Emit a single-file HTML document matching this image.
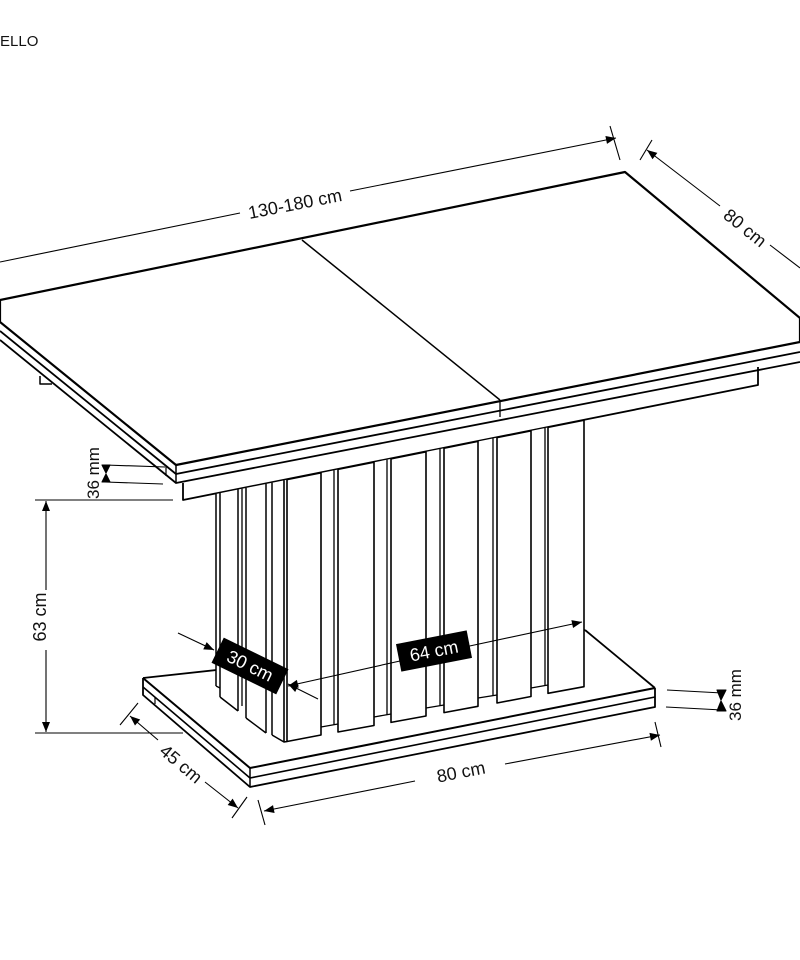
<!DOCTYPE html>
<html><head><meta charset="utf-8"><style>
html,body{margin:0;padding:0;background:#fff;width:800px;height:960px;overflow:hidden}
svg{display:block}
text{font-family:"Liberation Sans",Arial,sans-serif;fill:#111}
</style></head><body>
<svg width="800" height="960" viewBox="0 0 800 960" xmlns="http://www.w3.org/2000/svg">
<defs>
<marker id="a" viewBox="0 0 10 10" refX="10" refY="5" markerWidth="14" markerHeight="10" markerUnits="userSpaceOnUse" orient="auto-start-reverse"><path d="M0,1 L10,5 L0,9 z" fill="#000"/></marker>
</defs>
<text x="0" y="46" font-size="15">ELLO</text>

<g stroke="#000" fill="none" stroke-linejoin="round">
<!-- base (drawn first, behind pedestal) -->
<polygon points="143,678 585,630 655,688 655,707 250,787 143,695" fill="#fff" stroke="none"/>
<polyline points="143,678 585,630" stroke-width="1.8"/>
<polyline points="585,630 655,688" stroke-width="1.8"/>
<polyline points="143,678 250,768 655,688" stroke-width="2"/>
<polyline points="143,687 250,778 655,697" stroke-width="1.6"/>
<polyline points="143,678 143,695 250,787 655,707 655,688" stroke-width="1.8"/>
<line x1="250" y1="768" x2="250" y2="787" stroke-width="1.5"/>
<line x1="155" y1="697" x2="155" y2="704" stroke-width="1.2"/>

<!-- tabletop -->
<polygon points="0,300 625,172 800,318 800,342 176,465 0,322" fill="#fff" stroke-width="2.2"/>
<line x1="302" y1="240" x2="500" y2="400" stroke-width="1.5"/>
<line x1="500" y1="400" x2="500" y2="417" stroke-width="1.3"/>
<polyline points="0,331 176,474 800,352" stroke-width="1.8"/>
<polyline points="0,340 176,483 800,362" stroke-width="1.8"/>
<line x1="176" y1="465" x2="176" y2="483" stroke-width="1.5"/>
<line x1="166" y1="466" x2="166" y2="476" stroke-width="1.2"/>
<polyline points="40,376 40,384 52,384" stroke-width="1.5"/>
<!-- apron -->
<polyline points="183,483 183,500 758,385 758,367" stroke-width="1.8"/>

<!-- recess background panel -->
<polygon points="216,494 584,420.2 584,679 284,742 216,688" fill="#fff" stroke="none"/>
<polyline points="321,727 338,724" stroke-width="1.3"/>
<polyline points="374,717 391,714" stroke-width="1.3"/>
<polyline points="426,708 444,705" stroke-width="1.3"/>
<polyline points="478,698 497,695" stroke-width="1.3"/>
<polyline points="531,688 548,685" stroke-width="1.3"/>
<line x1="334" y1="470.2" x2="334" y2="724.5" stroke-width="1.3"/>
<line x1="387" y1="459.6" x2="387" y2="714.5" stroke-width="1.3"/>
<line x1="440" y1="449" x2="440" y2="705.5" stroke-width="1.3"/>
<line x1="493" y1="438.4" x2="493" y2="695.5" stroke-width="1.3"/>
<line x1="545" y1="428" x2="545" y2="685.5" stroke-width="1.3"/>
<polygon points="287,479.6 321,472.8 321,735 287,741.5" fill="#fff" stroke-width="1.6"/>
<polygon points="338,469.4 374,462.2 374,725.5 338,732" fill="#fff" stroke-width="1.6"/>
<polygon points="391,458.8 426,451.8 426,716 391,722.4" fill="#fff" stroke-width="1.6"/>
<polygon points="444,448.2 478,441.4 478,706.3 444,712.6" fill="#fff" stroke-width="1.6"/>
<polygon points="497,437.6 531,430.8 531,696.5 497,703" fill="#fff" stroke-width="1.6"/>
<polygon points="548,427.4 584,420.2 584,686.7 548,693.3" fill="#fff" stroke-width="1.6"/>
<line x1="284" y1="480.2" x2="284" y2="742" stroke-width="1.6"/>
<!-- side slats -->
<line x1="216" y1="493.8" x2="216" y2="686" stroke-width="1.5"/>
<line x1="220" y1="493" x2="220" y2="697" stroke-width="1.5"/>
<polyline points="216,686 220,688" stroke-width="1.3"/>
<polyline points="220,697 238,711" stroke-width="1.5"/>
<line x1="238" y1="489.4" x2="238" y2="711" stroke-width="1.5"/>
<line x1="242" y1="488.6" x2="242" y2="706" stroke-width="1.3"/>
<line x1="246" y1="487.8" x2="246" y2="718" stroke-width="1.5"/>
<polyline points="246,718 266,733" stroke-width="1.5"/>
<line x1="266" y1="483.8" x2="266" y2="733" stroke-width="1.5"/>
<line x1="272" y1="482.6" x2="272" y2="735" stroke-width="1.5"/>
<polyline points="272,735 284,742 287,741.5" stroke-width="1.5"/>

<g stroke-width="1.1">
<line x1="0" y1="262" x2="240" y2="213"/>
<line x1="350" y1="191" x2="616" y2="138" marker-end="url(#a)"/>
<line x1="610" y1="126" x2="620" y2="160"/>
<line x1="640" y1="160" x2="652" y2="140"/>
<line x1="720" y1="206" x2="647" y2="150" marker-end="url(#a)"/>
<line x1="770" y1="245" x2="800" y2="268"/>
<line x1="105" y1="465" x2="165" y2="467"/>
<line x1="105" y1="482" x2="163" y2="484"/>
<path d="M102,465 L110,465 L106,473 z M102,482 L110,482 L106,474 z" fill="#000"/>
<line x1="35" y1="500" x2="173" y2="500"/>
<line x1="35" y1="733" x2="183" y2="733"/>
<line x1="46" y1="590" x2="46" y2="501" marker-end="url(#a)"/>
<line x1="46" y1="650" x2="46" y2="732" marker-end="url(#a)"/>
<line x1="178" y1="633" x2="214" y2="650" marker-end="url(#a)"/>
<line x1="318" y1="699" x2="288" y2="684" marker-end="url(#a)"/>
<line x1="400" y1="661" x2="288" y2="686" marker-end="url(#a)"/>
<line x1="465" y1="647" x2="582" y2="622" marker-end="url(#a)"/>
<line x1="667" y1="690" x2="722" y2="693"/>
<line x1="666" y1="707" x2="722" y2="710"/>
<path d="M717,690 L726,690 L721,700 z M717,711 L726,711 L721,701 z" fill="#000"/>
<line x1="120" y1="725" x2="138" y2="703"/>
<line x1="158" y1="740" x2="130" y2="716" marker-end="url(#a)"/>
<line x1="205" y1="782" x2="238" y2="808" marker-end="url(#a)"/>
<line x1="232" y1="818" x2="247" y2="797"/>
<line x1="258" y1="800" x2="265" y2="825"/>
<line x1="415" y1="781" x2="264" y2="811" marker-end="url(#a)"/>
<line x1="505" y1="764" x2="660" y2="735" marker-end="url(#a)"/>
<line x1="655" y1="722" x2="661" y2="747"/>
</g>
</g>

<text x="295" y="210" font-size="18" text-anchor="middle" transform="rotate(-11 295 204)">130-180 cm</text>
<text x="745" y="234" font-size="18" text-anchor="middle" transform="rotate(39 745 228)">80 cm</text>
<text x="99" y="473" font-size="17" text-anchor="middle" transform="rotate(-90 99 473)">36 mm</text>
<text x="52" y="623" font-size="18" text-anchor="middle" transform="rotate(-90 46 623)">63 cm</text>
<g transform="rotate(26 250 666)"><rect x="214" y="652" width="72" height="28" fill="#000"/><text x="250" y="672" font-size="18" text-anchor="middle" style="fill:#fff">30 cm</text></g>
<g transform="rotate(-11 434 651)"><rect x="398" y="637" width="72" height="28" fill="#000"/><text x="434" y="657" font-size="18" text-anchor="middle" style="fill:#fff">64 cm</text></g>
<text x="741" y="707" font-size="17" text-anchor="middle" transform="rotate(-90 735 701)">36 mm</text>
<text x="181" y="770" font-size="18" text-anchor="middle" transform="rotate(40 181 764)">45 cm</text>
<text x="461" y="778" font-size="18" text-anchor="middle" transform="rotate(-11 461 772)">80 cm</text>
</svg>
</body></html>
